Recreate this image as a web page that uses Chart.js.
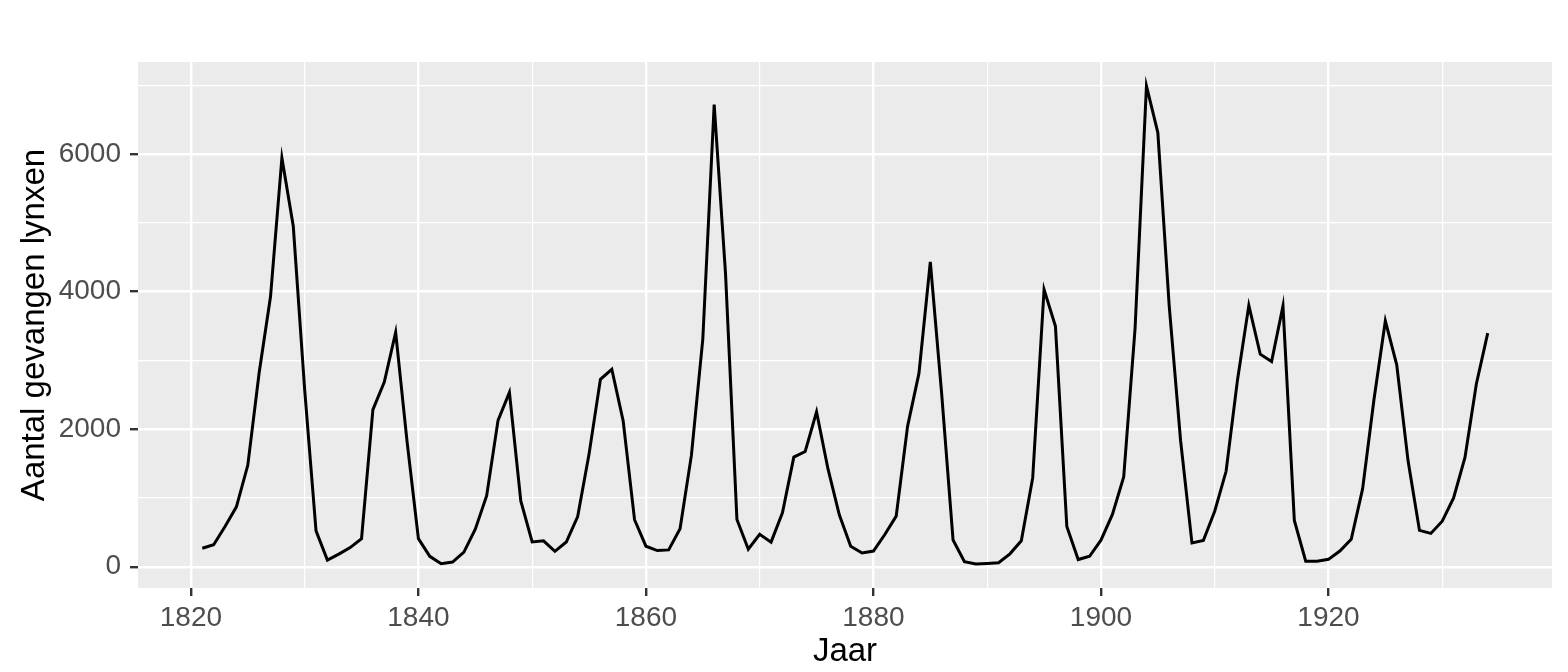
<!DOCTYPE html>
<html>
<head>
<meta charset="utf-8">
<title>Lynx</title>
<script src="https://cdn.jsdelivr.net/npm/chart.js@4.4.0/dist/chart.umd.min.js"></script>
<style>
  html, body { margin: 0; padding: 0; background: #ffffff; }
  #wrap { width: 1568px; height: 672px; }
</style>
</head>
<body>
<div id="wrap"><canvas id="lynxChart" width="1568" height="672"></canvas></div>
<script>
// Data (lynx trappings, 1821 - 1934)
const firstYear = 1821;
const lynxCounts = [
  269, 321, 585, 871, 1475, 2821, 3928, 5943, 4950, 2577,
  523, 98, 184, 279, 409, 2285, 2685, 3409, 1824, 409,
  151, 45, 68, 213, 546, 1033, 2129, 2536, 957, 361,
  377, 225, 360, 731, 1638, 2725, 2871, 2119, 684, 299,
  236, 245, 552, 1623, 3311, 6721, 4254, 687, 255, 473,
  358, 784, 1594, 1676, 2251, 1426, 756, 299, 201, 229,
  469, 736, 2042, 2811, 4431, 2511, 389, 73, 39, 49,
  59, 188, 377, 1292, 4031, 3495, 587, 105, 153, 387,
  758, 1307, 3465, 6991, 6313, 3794, 1836, 345, 382, 808,
  1388, 2713, 3800, 3091, 2985, 3790, 674, 81, 80, 108,
  229, 399, 1132, 2432, 3574, 2935, 1537, 529, 485, 662,
  1000, 1590, 2657, 3396
];
const years = lynxCounts.map((v, i) => firstYear + i);

// major (labelled) and all grid positions
const xTickLabels = [1820, 1840, 1860, 1880, 1900, 1920];
const xGridValues = [1820, 1830, 1840, 1850, 1860, 1870, 1880, 1890, 1900, 1910, 1920, 1930];
const yTickLabels = [0, 2000, 4000, 6000];
const yGridValues = [0, 1000, 2000, 3000, 4000, 5000, 6000, 7000];

const xLabel = 'Jaar';
const yLabel = 'Aantal gevangen lynxen';

// ggplot-like expansion of 5%
const xSpan = years[years.length - 1] - years[0];
const ySpan = Math.max(...lynxCounts) - Math.min(...lynxCounts);

// Grey panel background
const panelBackground = {
  id: 'panelBackground',
  beforeDraw(chart) {
    const { ctx, chartArea } = chart;
    ctx.save();
    ctx.fillStyle = '#EBEBEB';
    ctx.fillRect(chartArea.left, chartArea.top, chartArea.right - chartArea.left, chartArea.bottom - chartArea.top);
    ctx.restore();
  }
};

function isMajor(list, value) {
  return list.indexOf(Math.round(value)) !== -1;
}

const tickFont = { family: 'Liberation Sans, Arial, sans-serif', size: 28 };
const titleFont = { family: 'Liberation Sans, Arial, sans-serif', size: 33 };

new Chart(document.getElementById('lynxChart'), {
  type: 'line',
  data: {
    datasets: [{
      data: years.map((yr, i) => ({ x: yr, y: lynxCounts[i] })),
      borderColor: '#000000',
      borderWidth: 3,
      pointRadius: 0,
      tension: 0,
      fill: false
    }]
  },
  options: {
    responsive: false,
    animation: false,
    layout: { padding: { top: 62, right: 16, left: 0, bottom: 0 } },
    plugins: {
      legend: { display: false },
      tooltip: { enabled: false }
    },
    scales: {
      x: {
        type: 'linear',
        min: years[0] - xSpan * 0.05,
        max: years[years.length - 1] + xSpan * 0.05,
        afterFit: (scale) => { scale.height = 84; },
        afterBuildTicks: (scale) => { scale.ticks = xGridValues.map(v => ({ value: v })); },
        border: { display: false },
        grid: {
          color: '#FFFFFF',
          lineWidth: (c) => isMajor(xTickLabels, c.tick.value) ? 2.4 : 1.2,
          tickLength: 8,
          tickWidth: 2.4,
          tickColor: (c) => isMajor(xTickLabels, c.tick.value) ? '#333333' : 'rgba(0,0,0,0)'
        },
        ticks: {
          autoSkip: false,
          maxRotation: 0,
          padding: 5,
          color: '#4D4D4D',
          font: tickFont,
          callback: (v) => isMajor(xTickLabels, v) ? String(Math.round(v)) : ''
        },
        title: {
          display: true,
          text: xLabel,
          color: '#000000',
          padding: { top: 0, bottom: 0 },
          font: titleFont
        }
      },
      y: {
        type: 'linear',
        min: Math.min(...lynxCounts) - ySpan * 0.05,
        max: Math.max(...lynxCounts) + ySpan * 0.05,
        afterFit: (scale) => { scale.width = 138; },
        afterBuildTicks: (scale) => { scale.ticks = yGridValues.map(v => ({ value: v })); },
        border: { display: false },
        grid: {
          color: '#FFFFFF',
          lineWidth: (c) => isMajor(yTickLabels, c.tick.value) ? 2.4 : 1.2,
          tickLength: 8,
          tickWidth: 2.4,
          tickColor: (c) => isMajor(yTickLabels, c.tick.value) ? '#333333' : 'rgba(0,0,0,0)'
        },
        ticks: {
          autoSkip: false,
          padding: 9,
          color: '#4D4D4D',
          font: tickFont,
          callback: (v) => isMajor(yTickLabels, v) ? String(Math.round(v)) : ''
        },
        title: {
          display: true,
          text: yLabel,
          color: '#000000',
          padding: { top: 15, bottom: 0 },
          font: titleFont
        }
      }
    }
  },
  plugins: [panelBackground]
});
</script>
</body>
</html>
